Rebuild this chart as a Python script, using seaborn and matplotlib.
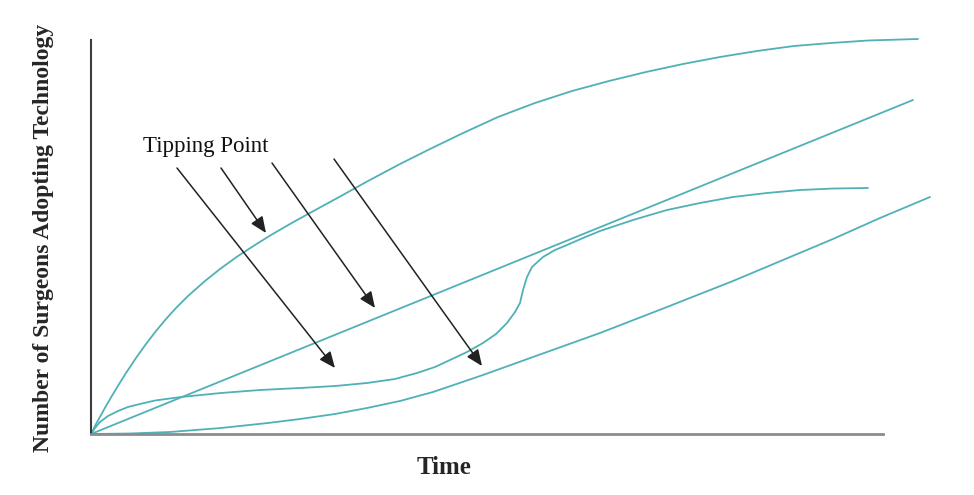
import matplotlib.pyplot as plt
import pandas as pd
import seaborn as sns

# adoption curves (arbitrary units)
fast_t = [0, 5, 15, 25, 35, 45, 55, 65, 75, 85, 97, 114, 129, 147, 164, 180,
          199, 217, 250, 277, 309, 339, 370, 407, 444, 481, 518, 555, 592, 629,
          666, 703, 740, 777, 827]
fast_y = [0, 10, 28, 45, 61, 76, 90, 103, 115, 126, 138, 153, 165, 178, 189, 199,
          210, 220, 238, 253, 270, 285, 300, 317, 331, 343, 353, 362, 370, 377,
          383, 388, 391, 393.5, 395]

linear_t = [0, 822]
linear_y = [0, 334]

tip_t = [0, 4, 9, 17, 27, 37, 49, 64, 90, 130, 169, 209, 244, 276, 304, 326, 344,
         359, 376, 392, 405, 416, 424, 429, 432, 436, 441, 452, 464, 476, 492, 509,
         542, 576, 609, 642, 676, 709, 743, 777]
tip_y = [0, 6, 12, 18, 23, 27, 30, 33.5, 37, 41, 44, 46, 48, 51, 55, 61, 67,
         74, 82, 91, 100, 111, 122, 131, 144, 157, 167, 177, 184, 189, 196, 203,
         214, 224, 231, 237, 241, 244, 245.5, 246]

slow_t = [0, 39, 79, 130, 177, 209, 244, 276, 309, 342, 392, 442, 509, 576, 642,
          692, 742, 789, 839]
slow_y = [0, 0.5, 2, 6, 11, 15, 20, 26, 33, 42, 59, 77, 101, 127, 153,
          174, 195, 216, 237]

# "Tipping Point" arrows: (start_t, start_y, end_t, end_y)
arrows = [(86, 266, 244, 66), (130, 266, 175, 201), (181, 271, 284, 126), (243, 275, 391, 68)]

curves = {"fast": (fast_t, fast_y), "linear": (linear_t, linear_y),
          "tipping": (tip_t, tip_y), "slow": (slow_t, slow_y)}
frames = []
for name, (t, y) in curves.items():
    frames.append(pd.DataFrame({"time": t, "adopters": y, "curve": name}))
df = pd.concat(frames, ignore_index=True)

sns.set_style("white")
plt.rcParams["font.family"] = ["Liberation Serif", "DejaVu Serif"]

fig = plt.figure(figsize=(9.74, 4.95), dpi=100)
ax = fig.add_axes([91 / 974, 61 / 495, 850 / 974, 400 / 495])

teal = "#4fb1b6"
sns.lineplot(data=df, x="time", y="adopters", units="curve", estimator=None,
             sort=False, color=teal, linewidth=1.3, ax=ax)
for line in ax.get_lines():
    line.set_solid_joinstyle("round")

for x0, y0, x1, y1 in arrows:
    ax.annotate("", xy=(x1, y1), xytext=(x0, y0),
                arrowprops=dict(arrowstyle="-|>,head_length=0.7,head_width=0.3",
                                mutation_scale=14, color="#222222", lw=1.1,
                                shrinkA=0, shrinkB=0))

ax.text(52, 282, "Tipping Point", fontsize=16.5, color="#111111", va="baseline")

ax.set_xlim(0, 850)
ax.set_ylim(0, 400)
ax.set_xticks([])
ax.set_yticks([])
ax.set_xlabel("")
ax.set_ylabel("")
sns.despine(ax=ax)
ax.spines["left"].set_bounds(0, 394)
ax.spines["left"].set_color("#3c3c3c")
ax.spines["left"].set_linewidth(1.5)
ax.spines["bottom"].set_bounds(0, 792)
ax.spines["bottom"].set_color("#8c8c8c")
ax.spines["bottom"].set_linewidth(2)

fig.text(444 / 974, 1 - 467 / 495, "Time", fontsize=18, fontweight="bold",
         ha="center", va="center")
fig.text(44 / 974, 1 - 238 / 495, "Number of Surgeons Adopting Technology",
         fontsize=17, fontweight="bold", rotation=90, ha="center", va="center")

fig.savefig("out.png", dpi=100)
